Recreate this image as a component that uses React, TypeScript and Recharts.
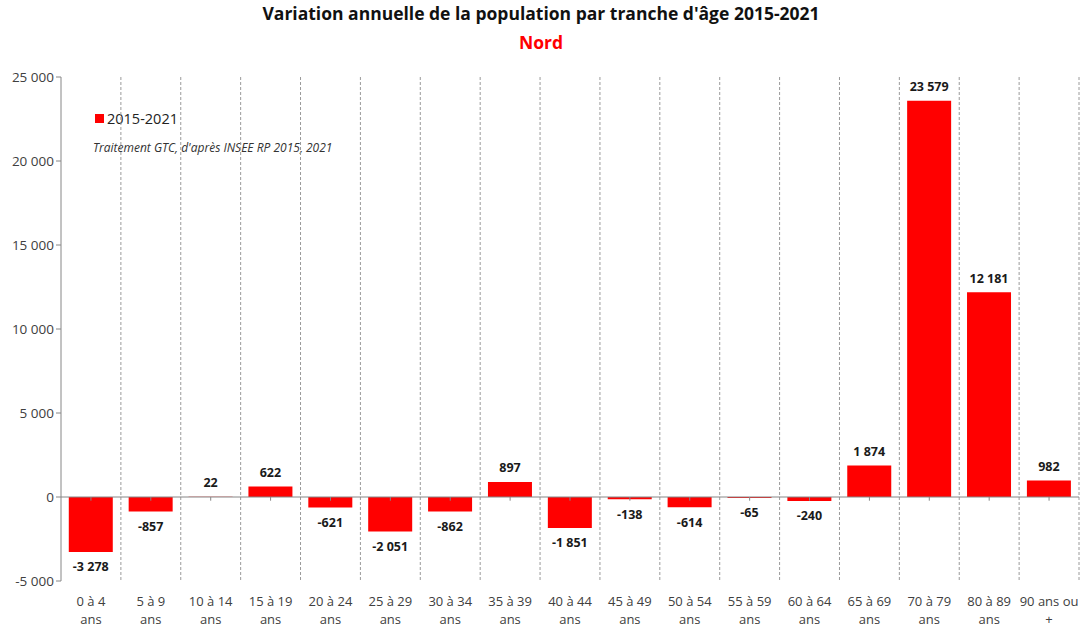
import React from 'react';
import { BarChart, Bar, XAxis, YAxis, CartesianGrid, ReferenceLine, LabelList } from 'recharts';

const categories = [
  '0 à 4|ans', '5 à 9|ans', '10 à 14|ans', '15 à 19|ans', '20 à 24|ans', '25 à 29|ans',
  '30 à 34|ans', '35 à 39|ans', '40 à 44|ans', '45 à 49|ans', '50 à 54|ans', '55 à 59|ans',
  '60 à 64|ans', '65 à 69|ans', '70 à 79|ans', '80 à 89|ans', '90 ans ou|+',
];
const values = [-3278, -857, 22, 622, -621, -2051, -862, 897, -1851, -138, -614, -65, -240, 1874, 23579, 12181, 982];
const yTicks = [-5000, 0, 5000, 10000, 15000, 20000, 25000];

const data = categories.map((c, i) => ({ cat: c, v: values[i] }));

const FONT = '"Open Sans", "Noto Sans", sans-serif';

const fmt = (n: number) => {
  const s = Math.abs(n).toString().replace(/\B(?=(\d{3})+(?!\d))/g, ' ');
  return (n < 0 ? '-' : '') + s;
};

const XTick = (props: any) => {
  const { x, y, payload } = props;
  const [a, b] = String(payload.value).split('|');
  return (
    <g>
      <text x={x} y={y} dy={25} textAnchor="middle" fontSize={13} fill="#404040" fontFamily={FONT}>{a}</text>
      <text x={x} y={y} dy={43} textAnchor="middle" fontSize={13} fill="#404040" fontFamily={FONT}>{b}</text>
    </g>
  );
};

const ValueLabel = (props: any) => {
  const { x, y, width, height, value } = props;
  const top = Math.min(y, y + height);
  const bottom = Math.max(y, y + height);
  const ly = value >= 0 ? top - 13 : bottom + 16;
  return (
    <text x={x + width / 2} y={ly} textAnchor="middle" dominantBaseline="middle"
      fontSize={12.5} fontWeight="bold" fill="#1a1a1a" fontFamily={FONT}>
      {fmt(value)}
    </text>
  );
};

export default function App() {
  return (
    <div style={{ position: 'absolute', left: 0, top: 0, width: 1082, height: 627, background: '#fff' }}>
      <div style={{ position: 'absolute', top: 1, width: 1082, textAlign: 'center', fontFamily: FONT, fontWeight: 'bold', fontSize: 17.5, color: '#111' }}>
        Variation annuelle de la population par tranche d'âge 2015-2021
      </div>
      <div style={{ position: 'absolute', top: 30, width: 1082, textAlign: 'center', fontFamily: FONT, fontWeight: 'bold', fontSize: 17.5, color: '#ff0000' }}>
        Nord
      </div>
      <div style={{ position: 'absolute', left: 95, top: 109, fontFamily: FONT, display: 'flex', alignItems: 'center', fontSize: 14.5, color: '#222' }}>
        <span style={{ width: 9, height: 9, background: '#ff0000', display: 'inline-block', marginRight: 3 }} />
        2015-2021
      </div>
      <div style={{ position: 'absolute', left: 93, top: 139, fontFamily: FONT, fontSize: 12, fontStyle: 'italic', color: '#333' }}>
        Traitement GTC, d'après INSEE RP 2015, 2021
      </div>
      <BarChart width={1082} height={627} data={data} margin={{ top: 77, right: 3, bottom: 0, left: 0 }} barCategoryGap="13%">
        <CartesianGrid
          horizontal={false}
          stroke="#9a9a9a"
          strokeDasharray="3 2"
          verticalCoordinatesGenerator={({ offset }: any) =>
            categories.map((_, i) => offset.left + ((i + 1) * offset.width) / categories.length)
          }
        />
        <XAxis dataKey="cat" axisLine={false} tickLine={false} tickSize={0} tickMargin={0} interval={0} tick={<XTick />} height={46} />
        <YAxis
          domain={[-5000, 25000]}
          ticks={yTicks}
          width={61}
          axisLine={{ stroke: '#868686' }}
          tickLine={{ stroke: '#868686' }}
          tickSize={5}
          tickMargin={2}
          tickFormatter={fmt}
          tick={{ fontSize: 13.5, fill: '#404040', fontFamily: FONT }}
          allowDataOverflow
        />
        <ReferenceLine y={0} stroke="#868686" />
        {categories.map((c) => (
          <ReferenceLine key={c} segment={[{ x: c, y: 0 }, { x: c, y: -220 }]} stroke="#868686" />
        ))}
        <Bar dataKey="v" name="2015-2021" fill="#ff0000" isAnimationActive={false}>
          <LabelList dataKey="v" content={<ValueLabel />} />
        </Bar>
      </BarChart>
    </div>
  );
}
